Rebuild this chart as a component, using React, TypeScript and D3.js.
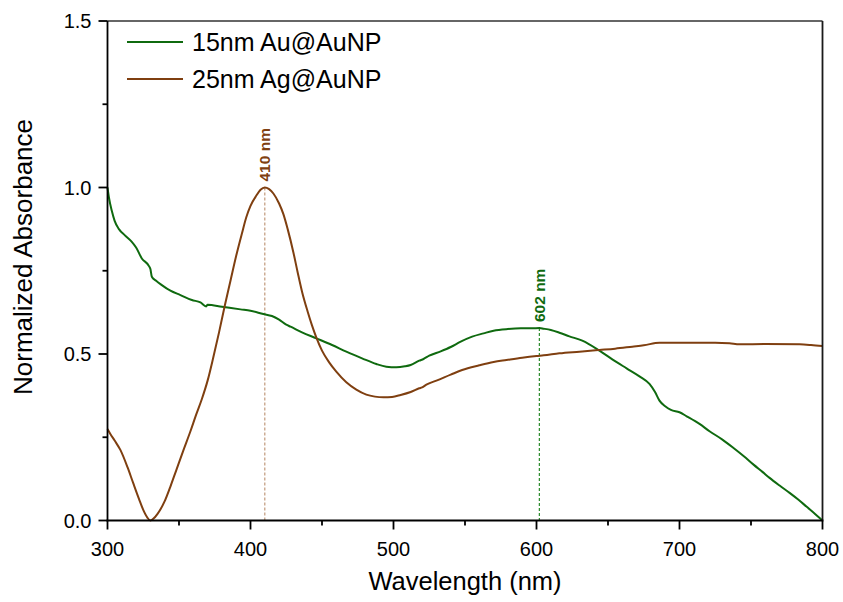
import React from "react";
import * as d3 from "d3";

// Absorbance spectra (wavelength in nm, normalized absorbance)
const auWavelengths = [300, 301, 303, 305, 308, 312, 317, 320, 324, 329, 330, 331, 334, 338, 344, 351, 359, 365, 369, 370, 380, 393, 400, 409, 415, 420, 425, 428, 436, 446, 457, 467, 478, 488, 495, 502, 508, 512, 518, 521, 525, 533, 540, 547, 555, 563, 570, 580, 589, 597, 602, 605, 610, 616, 623, 632, 644, 653, 663, 672, 679, 683, 686, 690, 694, 700, 705, 714, 721, 730, 738, 745, 752, 758, 763, 770, 777, 783, 789, 795, 800];
const auValues = [1.0, 0.97, 0.93, 0.9, 0.875, 0.857, 0.837, 0.82, 0.787, 0.764, 0.755, 0.732, 0.72, 0.707, 0.69, 0.677, 0.662, 0.655, 0.643, 0.648, 0.642, 0.634, 0.63, 0.62, 0.614, 0.603, 0.588, 0.582, 0.565, 0.547, 0.527, 0.507, 0.487, 0.47, 0.462, 0.46, 0.463, 0.467, 0.48, 0.485, 0.495, 0.508, 0.521, 0.537, 0.552, 0.562, 0.57, 0.575, 0.577, 0.577, 0.578, 0.576, 0.572, 0.564, 0.553, 0.54, 0.51, 0.484, 0.457, 0.433, 0.41, 0.385, 0.36, 0.343, 0.332, 0.325, 0.313, 0.29, 0.268, 0.243, 0.217, 0.193, 0.167, 0.146, 0.128, 0.105, 0.083, 0.063, 0.041, 0.019, 0.0];

const agWavelengths = [300, 302, 305, 309, 314, 318, 322, 325, 328, 330, 332, 335, 340, 344, 348, 353, 358, 362, 366, 370, 374, 378, 382, 386, 390, 394, 397, 400, 404, 407, 410, 413, 416, 420, 423, 426, 430, 433, 436, 440, 443, 446, 450, 455, 460, 467, 474, 481, 487, 493, 499, 505, 512, 518, 520, 523, 530, 540, 548, 560, 570, 579, 590, 600, 605, 616, 630, 644, 655, 667, 675, 686, 700, 714, 725, 735, 742, 760, 784, 792, 800];
const agValues = [0.275, 0.26, 0.24, 0.212, 0.16, 0.112, 0.065, 0.032, 0.008, 0.0, 0.005, 0.02, 0.058, 0.102, 0.15, 0.21, 0.268, 0.318, 0.365, 0.42, 0.49, 0.565, 0.645, 0.72, 0.795, 0.862, 0.91, 0.945, 0.975, 0.993, 1.0, 0.995, 0.982, 0.952, 0.92, 0.875, 0.805, 0.745, 0.688, 0.627, 0.586, 0.55, 0.51, 0.475, 0.447, 0.415, 0.393, 0.378, 0.372, 0.37, 0.371, 0.377, 0.386, 0.397, 0.4, 0.408, 0.42, 0.438, 0.452, 0.466, 0.476, 0.482, 0.489, 0.494, 0.496, 0.502, 0.507, 0.512, 0.516, 0.522, 0.526, 0.534, 0.534, 0.534, 0.534, 0.532, 0.529, 0.53, 0.529, 0.527, 0.524];

const seriesNames = ["15nm Au@AuNP", "25nm Ag@AuNP"];
const seriesColors = ["#0f6a0f", "#7f3f10"];

// Peak markers
const peakWavelengths = [410, 602];
const peakValues = [1.0, 0.578];
const peakLabels = ["410 nm", "602 nm"];
const peakLineColors = ["#c09a7c", "#2a8a2a"];
const peakTextColors = ["#7f3f10", "#0f6a0f"];

const xTicks = [300, 400, 500, 600, 700, 800];
const yTicks = [0, 0.5, 1.0, 1.5];

const W = 843;
const H = 602;
const left = 107.5;
const right = 822.5;
const top = 21;
const bottom = 520.5;

export default function App() {
  const x = d3.scaleLinear().domain([300, 800]).range([left, right]);
  const y = d3.scaleLinear().domain([0, 1.5]).range([bottom, top]);

  const line = d3
    .line<[number, number]>()
    .x((d) => x(d[0]))
    .y((d) => y(d[1]))
    .curve(d3.curveMonotoneX);

  const series = [
    auWavelengths.map((w, i) => [w, auValues[i]] as [number, number]),
    agWavelengths.map((w, i) => [w, agValues[i]] as [number, number]),
  ];

  const xMinor = d3.range(350, 800, 100);
  const yMinor = [0.25, 0.75, 1.25];
  const font = "Arial, 'Liberation Sans', Helvetica, sans-serif";

  return (
    <svg
      width={W}
      height={H}
      style={{ position: "absolute", left: 0, top: 0, background: "#fff" }}
      fontFamily={font}
    >
      {/* peak guide lines */}
      {peakWavelengths.map((w, i) => (
        <line
          key={"pl" + i}
          x1={x(w)}
          x2={x(w)}
          y1={y(peakValues[i])}
          y2={bottom}
          stroke={peakLineColors[i]}
          strokeWidth={1.2}
          strokeDasharray="3,2"
        />
      ))}

      {/* spectra */}
      {series.map((s, i) => (
        <path
          key={"s" + i}
          d={line(s) || ""}
          fill="none"
          stroke={seriesColors[i]}
          strokeWidth={2}
          strokeLinejoin="round"
        />
      ))}

      {/* peak labels */}
      {peakWavelengths.map((w, i) => (
        <text
          key={"pt" + i}
          transform={`translate(${x(w) + 5.5},${y(peakValues[i]) - 6}) rotate(-90)`}
          fontSize={15.5}
          fontWeight="bold"
          fill={peakTextColors[i]}
        >
          {peakLabels[i]}
        </text>
      ))}

      {/* frame */}
      <line x1={left} x2={right} y1={top} y2={top} stroke="#333" strokeWidth={1.5} />
      <line x1={right} x2={right} y1={top} y2={bottom} stroke="#1a1a1a" strokeWidth={1.8} />
      <line x1={left} x2={left} y1={top} y2={bottom + 0.8} stroke="#000" strokeWidth={1.8} />
      <line x1={left - 0.9} x2={right + 0.9} y1={bottom} y2={bottom} stroke="#000" strokeWidth={1.8} />

      {/* x ticks */}
      {xTicks.map((t) => (
        <g key={"xt" + t}>
          <line x1={x(t)} x2={x(t)} y1={bottom} y2={bottom + 9} stroke="#000" strokeWidth={1.8} />
          <text x={x(t)} y={bottom + 35} textAnchor="middle" fontSize={20} fill="#000">
            {t}
          </text>
        </g>
      ))}
      {xMinor.map((t) => (
        <line key={"xm" + t} x1={x(t)} x2={x(t)} y1={bottom} y2={bottom + 5} stroke="#000" strokeWidth={1.8} />
      ))}

      {/* y ticks */}
      {yTicks.map((t) => (
        <g key={"yt" + t}>
          <line x1={left - 9} x2={left} y1={y(t)} y2={y(t)} stroke="#000" strokeWidth={1.8} />
          <text x={left - 16} y={y(t) + 7} textAnchor="end" fontSize={20} fill="#000">
            {t.toFixed(1)}
          </text>
        </g>
      ))}
      {yMinor.map((t) => (
        <line key={"ym" + t} x1={left - 5} x2={left} y1={y(t)} y2={y(t)} stroke="#000" strokeWidth={1.8} />
      ))}

      {/* axis titles */}
      <text x={465} y={590} textAnchor="middle" fontSize={25.5} fill="#000">
        Wavelength (nm)
      </text>
      <text
        transform={`translate(32,257) rotate(-90)`}
        textAnchor="middle"
        fontSize={26}
        fill="#000"
      >
        Normalized Absorbance
      </text>

      {/* legend */}
      {seriesNames.map((n, i) => (
        <g key={"lg" + i}>
          <line x1={127} x2={183} y1={42 + i * 37} y2={42 + i * 37} stroke={seriesColors[i]} strokeWidth={2} />
          <text x={192} y={51 + i * 37} fontSize={25} fill="#000">
            {n}
          </text>
        </g>
      ))}
    </svg>
  );
}
